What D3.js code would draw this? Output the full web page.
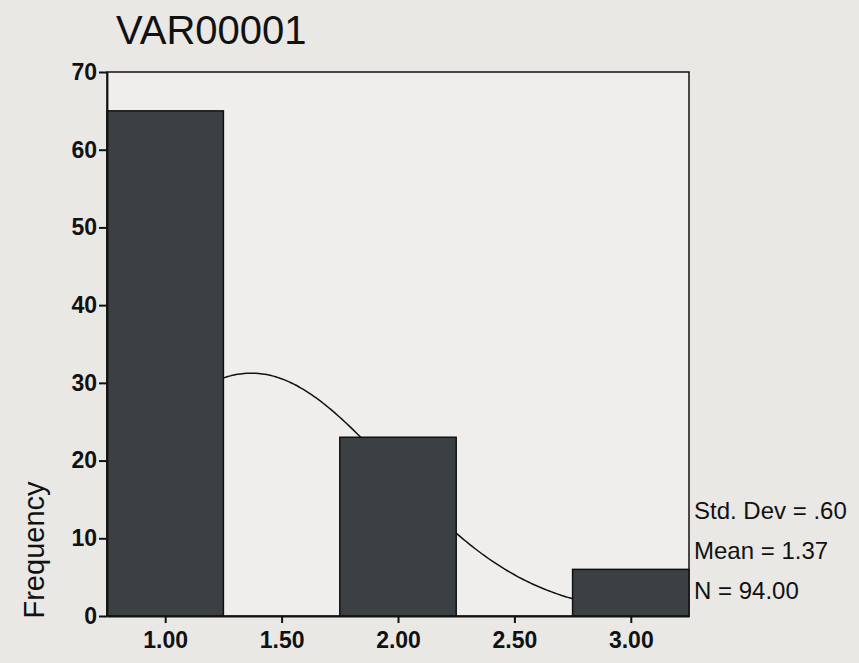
<!DOCTYPE html>
<html>
<head>
<meta charset="utf-8">
<script src="https://cdn.jsdelivr.net/npm/d3@7"></script>
<style>
  body { margin: 0; background: #e9e8e5; }
  text { font-family: "Liberation Sans", Arial, sans-serif; fill: #111; }
</style>
</head>
<body>
<div id="chart"></div>
<script>
// histogram data (bin centres, counts) + summary stats shown on the chart
var binCenters = [1.00, 2.00, 3.00];
var counts = [65, 23, 6];
var binWidth = 0.5;
var xTicks = [1.00, 1.50, 2.00, 2.50, 3.00];
var yTicks = [0, 10, 20, 30, 40, 50, 60, 70];
var stats = ["Std. Dev = .60", "Mean = 1.37", "N = 94.00"];
var mean = 1.37, sd = 0.60, n = 94;

var svgWidth = 859;
var svgHeight = 663;

var margin = { top: 72, right: 170, bottom: 47, left: 107 };
var width = svgWidth - margin.left - margin.right;
var height = svgHeight - margin.top - margin.bottom;

var svg = d3.select("#chart")
  .append("svg")
  .attr("width", svgWidth)
  .attr("height", svgHeight);

svg.append("rect")
  .attr("width", svgWidth)
  .attr("height", svgHeight)
  .attr("fill", "#e9e8e5");

var chartGroup = svg.append("g")
  .attr("transform", `translate(${margin.left}, ${margin.top})`);

// scales
var xScale = d3.scaleLinear()
  .domain([0.75, 3.25])
  .range([0, width]);

var yScale = d3.scaleLinear()
  .domain([0, 70])
  .range([height, 0]);

// plot area
chartGroup.append("rect")
  .attr("width", width)
  .attr("height", height)
  .attr("fill", "#efeeec")
  .attr("stroke", "#111")
  .attr("stroke-width", 1.5);

// normal curve from the shown mean / sd / N (drawn behind the bars)
var curveX = d3.range(0.75, 3.2501, 0.01);
var line = d3.line()
  .x(d => xScale(d))
  .y(d => yScale(n * binWidth / (sd * Math.sqrt(2 * Math.PI)) * Math.exp(-Math.pow(d - mean, 2) / (2 * sd * sd))))
  .curve(d3.curveBasis);

chartGroup.append("path")
  .datum(curveX)
  .attr("d", line)
  .attr("fill", "none")
  .attr("stroke", "#111")
  .attr("stroke-width", 1.5);

// bars
chartGroup.selectAll(".bar")
  .data(binCenters)
  .enter()
  .append("rect")
  .attr("class", "bar")
  .attr("x", d => xScale(d - binWidth / 2))
  .attr("y", (d, i) => yScale(counts[i]))
  .attr("width", xScale(binWidth) - xScale(0))
  .attr("height", (d, i) => height - yScale(counts[i]))
  .attr("fill", "#3c4043")
  .attr("stroke", "#111")
  .attr("stroke-width", 1.5);

// axes
var bottomAxis = d3.axisBottom(xScale)
  .tickValues(xTicks)
  .tickFormat(d3.format(".2f"))
  .tickSize(7)
  .tickSizeOuter(0);

var leftAxis = d3.axisLeft(yScale)
  .tickValues(yTicks)
  .tickSize(8)
  .tickSizeOuter(0);

var xAxisG = chartGroup.append("g")
  .attr("transform", `translate(0, ${height})`)
  .call(bottomAxis);

var yAxisG = chartGroup.append("g")
  .call(leftAxis);

[xAxisG, yAxisG].forEach(function (g) {
  g.select(".domain").attr("stroke", "#111").attr("stroke-width", 1.8);
  g.selectAll(".tick line").attr("stroke", "#111").attr("stroke-width", 2);
  g.selectAll(".tick text")
    .style("font-size", "23px")
    .style("font-weight", "bold")
    .style("font-family", "Liberation Sans, Arial, sans-serif")
    .attr("fill", "#151515");
});
xAxisG.selectAll(".tick text").attr("dy", "0.95em");
yAxisG.selectAll(".tick text").attr("x", -10);

// title
svg.append("text")
  .attr("x", 116)
  .attr("y", 44)
  .style("font-size", "40px")
  .attr("fill", "#222")
  .text("VAR00001");

// y label
svg.append("text")
  .attr("transform", "rotate(-90)")
  .attr("x", -550)
  .attr("y", 44)
  .attr("text-anchor", "middle")
  .style("font-size", "29px")
  .text("Frequency");

// summary stats
svg.selectAll(".stat")
  .data(stats)
  .enter()
  .append("text")
  .attr("class", "stat")
  .attr("x", 694)
  .attr("y", (d, i) => 519 + i * 40)
  .style("font-size", "24px")
  .text(d => d);
</script>
</body>
</html>
